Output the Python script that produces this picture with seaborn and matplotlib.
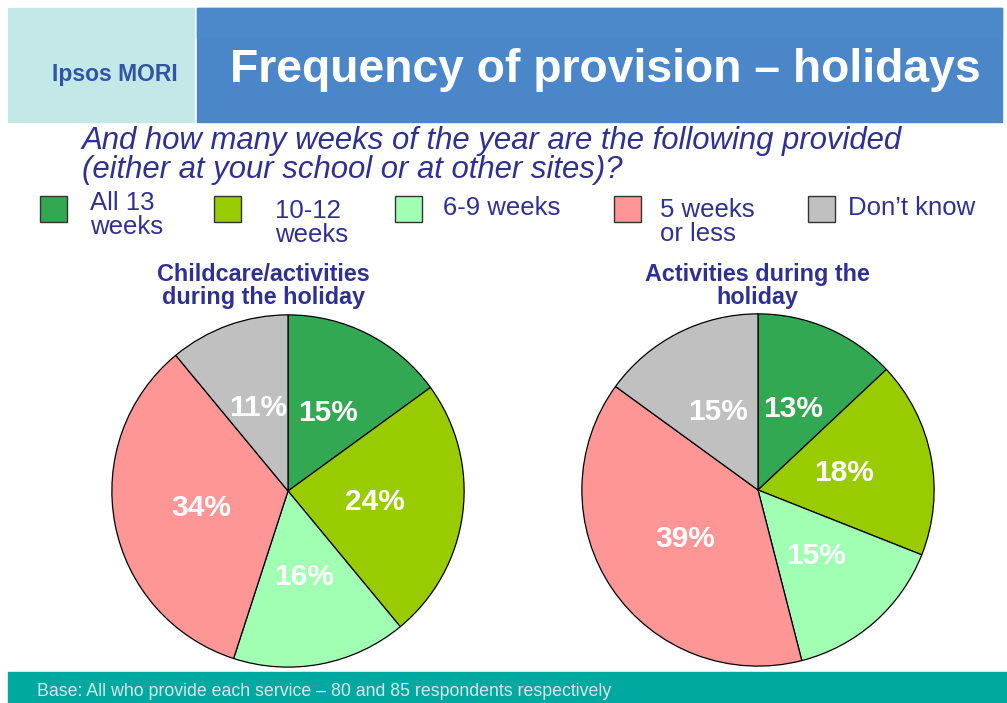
import matplotlib
matplotlib.use("Agg")
import matplotlib.pyplot as plt
import seaborn as sns
from matplotlib.patches import Rectangle

# data
categories = ["All 13\nweeks", "10-12\nweeks", "6-9 weeks", "5 weeks\nor less", "Don\u2019t know"]
childcare = [15, 24, 16, 34, 11]
activities = [13, 18, 15, 39, 15]
pie_titles = ["Childcare/activities\nduring the holiday", "Activities during the\nholiday"]

sns.set_theme(style="white")
plt.rcParams['font.family'] = ['Liberation Sans', 'DejaVu Sans']

colors = ["#33A852", "#99CC00", "#A0FFB2", "#FF9696", "#C0C0C0"]
navy = "#2E3192"

W, H = 1007, 703
fig = plt.figure(figsize=(W / 100, H / 100), dpi=100)
fig.patch.set_facecolor("white")

# background axes in pixel coordinates
bg = fig.add_axes([0, 0, 1, 1], zorder=0)
bg.set_xlim(0, W)
bg.set_ylim(H, 0)
bg.axis("off")

bg.add_patch(Rectangle((8, 8), 186, 114, color="#C4E7E7"))
bg.add_patch(Rectangle((197, 8), 805, 114, color="#4A86C8"))
bg.add_patch(Rectangle((197, 8), 805, 30, color="#4C89CA"))
bg.text(115, 75, "Ipsos MORI", fontsize=16.5, fontweight="bold", color="#2F55A4",
        ha="center", va="center")
bg.text(605, 70, "Frequency of provision \u2013 holidays", fontsize=33.3, fontweight="bold",
        color="white", ha="center", va="center")

bg.text(82, 141, "And how many weeks of the year are the following provided",
        fontsize=22.4, style="italic", color=navy, va="center")
bg.text(82, 170, "(either at your school or at other sites)?",
        fontsize=22.4, style="italic", color=navy, va="center")

# legend
sq_x = [40, 214, 395, 614, 808]
txt_x = [90, 275, 443, 660, 848]
txt_y = [215, 223, 208, 222, 208]
for i, lab in enumerate(categories):
    bg.add_patch(Rectangle((sq_x[i], 196), 27, 26, facecolor=colors[i],
                           edgecolor="#333333", linewidth=1))
    bg.text(txt_x[i], txt_y[i], lab, fontsize=18.5, color=navy, va="center",
            linespacing=0.98)

# footer
bg.add_patch(Rectangle((8, 672), 999, 31, color="#00A9A0"))
bg.text(37, 691, "Base: All who provide each service \u2013 80 and 85 respondents respectively",
        fontsize=12.8, color="#D9E6E6", va="center")

# pies
centers = [(288, 491), (758, 490)]
title_x = [263, 757]
r = 177
for k, vals in enumerate([childcare, activities]):
    cx, cy = centers[k]
    ax = fig.add_axes([(cx - r) / W, (H - cy - r) / H, 2 * r / W, 2 * r / H], zorder=2)
    ax.pie(vals, colors=colors, startangle=90, counterclock=False,
           autopct=lambda p: f"{p:.0f}%", pctdistance=0.5,
           wedgeprops=dict(edgecolor="black", linewidth=0.9),
           textprops=dict(color="white", fontsize=21.5, fontweight="bold"))
    ax.set_xlim(-1.005, 1.005)
    ax.set_ylim(-1.005, 1.005)
    ax.axis("off")
    bg.text(title_x[k], 286, pie_titles[k], fontsize=16.8, fontweight="bold",
            color=navy, ha="center", va="center", linespacing=1.05)

fig.savefig("out.png", dpi=100)
